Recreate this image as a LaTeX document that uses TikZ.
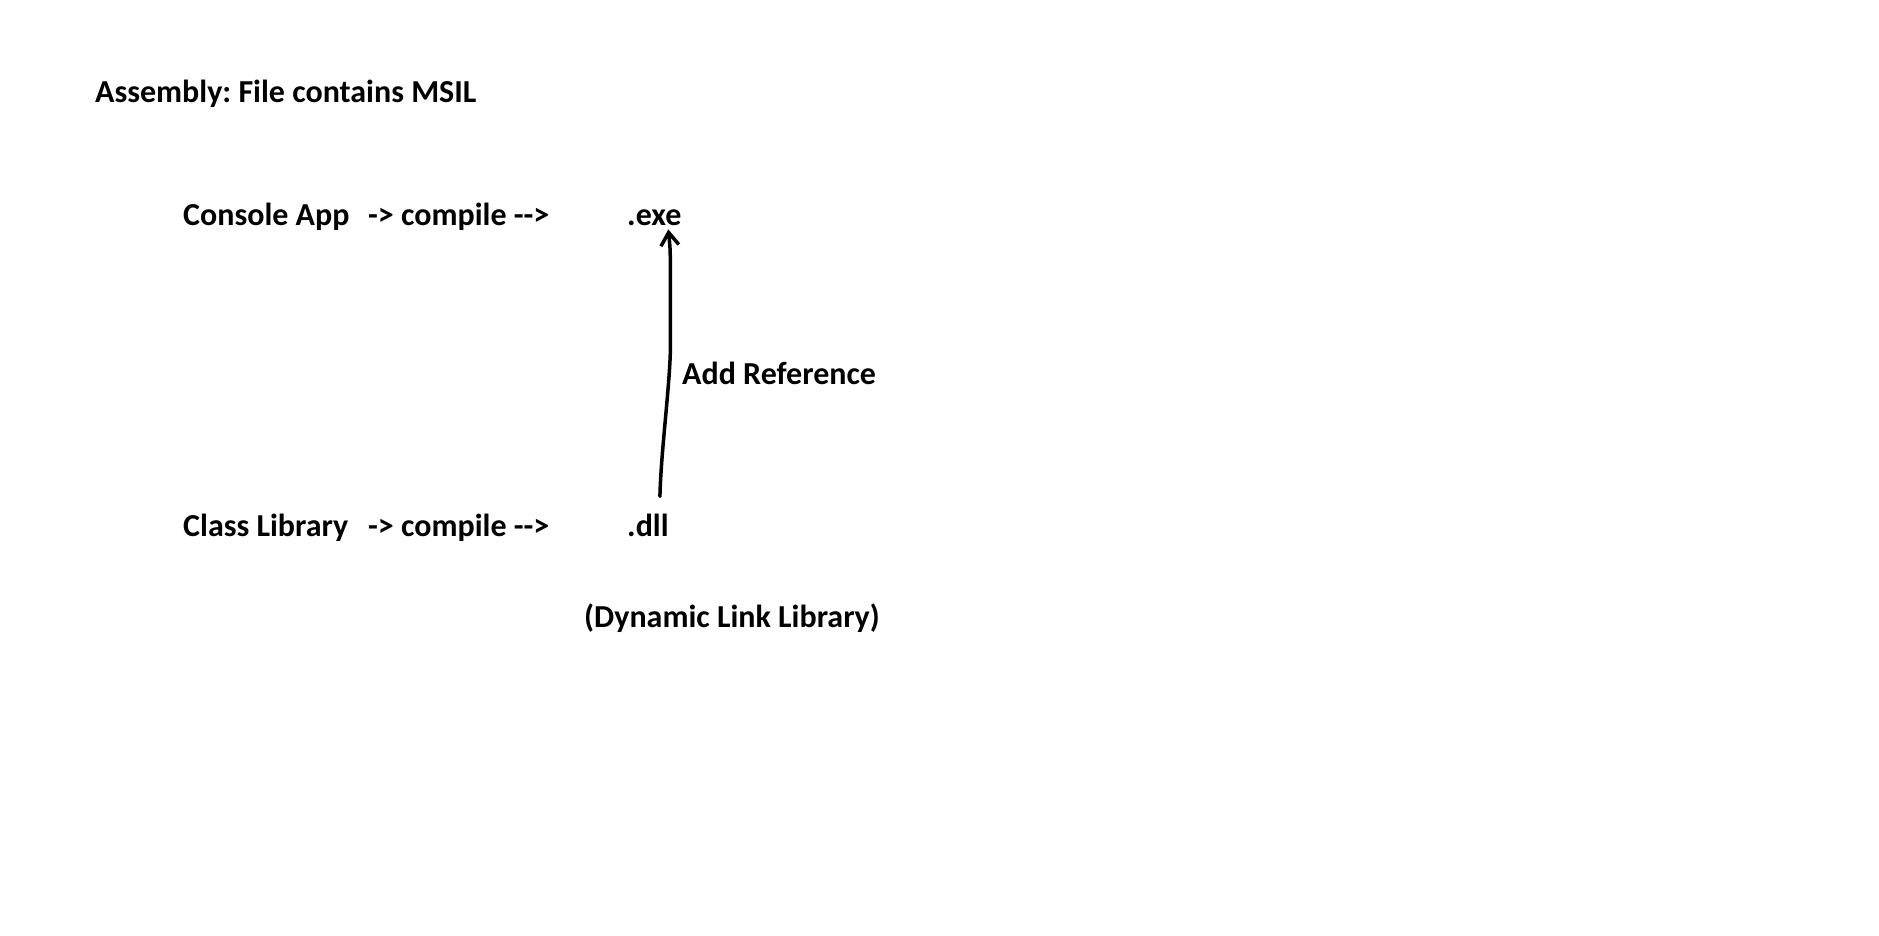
\documentclass[tikz,border=0pt]{standalone}
\usepackage{fontspec}
\setmainfont{Carlito}
\usetikzlibrary{arrows.meta,calc}
\begin{document}
\frenchspacing
\begin{tikzpicture}[x=1pt,y=-1pt,
  txt/.style={anchor=base west,inner sep=0pt,font=\fontsize{32}{38}\selectfont\bfseries},
  refarrow/.style={line width=3.5pt,line cap=round,line join=round,-{Straight Barb[length=13pt,width=18pt,line width=3.5pt]}}]
\useasboundingbox[fill=white] (0,0) rectangle (1879,935);
\node[txt] (title) at (95,102) {Assembly: File contains MSIL};
\node[txt] (console) at (183,225) {Console App};
\node[txt] (comp1) at (368,225) {-{}> compile -{}-{}>};
\node[txt] (exe) at (627,225) {.exe};
\node[txt] (addref) at (682,384) {Add Reference};
\node[txt] (classlib) at (183,536) {Class Library};
\node[txt] (comp2) at (368,536) {-{}> compile -{}-{}>};
\node[txt] (dll) at (627,536) {.dll};
\node[txt] (dyn) at (584,627) {(Dynamic Link Library)};
\coordinate (xs) at (exe.south);
\draw[refarrow] ($(dll.north)+(12,-17)$) .. controls ($(dll.north)+(13,-60)$) and ($(dll.north)+(21,-120)$) .. ($(xs)+(16,128)$)
  -- ($(xs)+(16,45)$) .. controls ($(xs)+(16,24)$) .. ($(xs)+(14,4)$);
\end{tikzpicture}
\end{document}
